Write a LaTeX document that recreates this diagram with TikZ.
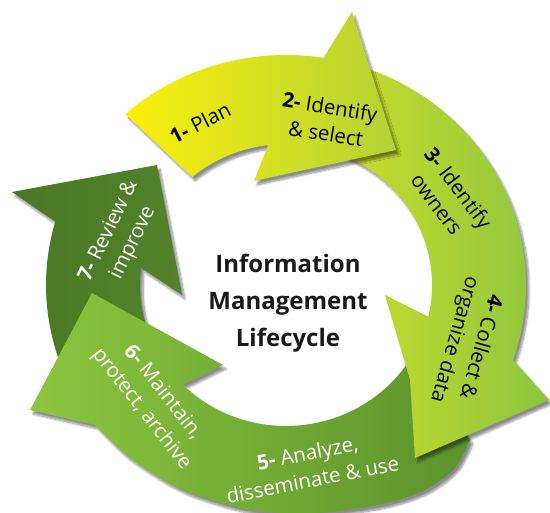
\documentclass[tikz,border=0pt]{standalone}
\usepackage{fontspec}
\setmainfont{Open Sans}
\usetikzlibrary{shadows.blur}
\definecolor{stepYellow}{HTML}{FBEF0C}
\definecolor{stepLime}{HTML}{B4D235}
\definecolor{stepPear}{HTML}{D3DE2A}
\definecolor{stepGreen}{HTML}{8CC63F}
\definecolor{stepGrass}{HTML}{5B922C}
\definecolor{stepDarkA}{HTML}{4A7825}
\definecolor{stepDarkB}{HTML}{52822A}

\begin{document}
\begin{tikzpicture}[x=1pt,y=1pt,
	band/.style={blur shadow={shadow xshift=3pt,shadow yshift=-4pt,shadow blur steps=8,shadow opacity=45}},
	tlabel/.style={font=\fontsize{20.5}{27}\selectfont,align=center,text=black},
	wlabel/.style={tlabel,text=white},
	title/.style={font=\fontsize{24}{37}\selectfont\bfseries,align=center,text=black!90}]
\useasboundingbox (0,0) rectangle (550,513);
\begin{scope}[shift={(286,228)}]
	% 7 review and improve
	\shade[band,left color=stepDarkA,right color=stepDarkB]
		(-129,120) -- (-274,93) -- (164:240 and 230)
		arc[start angle=164,end angle=212,x radius=240,y radius=230]
		-- (212:146 and 141)
		arc[start angle=212,end angle=173,x radius=146,y radius=141]
		-- (-104,-10) -- cycle;
	% 5 and 6
	\shade[band,left color=stepGreen,right color=stepGrass]
		(-194,-8) -- (-63,-80) -- (225:146 and 141)
		arc[start angle=225,end angle=330,x radius=146,y radius=141]
		-- plot[smooth] coordinates {(184,-155) (169,-183) (139,-205) (97,-219) (31,-228)
			(-36,-225) (-103,-205) (-156,-173) (-191,-140)}
		-- (-256,-125) -- cycle;
	% 3 and 4
	\shade[band,left color=stepPear,right color=stepGreen]
		(78:240 and 230)
		arc[start angle=78,end angle=-19,x radius=240,y radius=230]
		-- (263,-115) -- (129,-173) -- (124,-95) -- (99,-10) -- (-13:146 and 141)
		arc[start angle=-13,end angle=78,x radius=146,y radius=141]
		-- cycle;
	% 1 and 2
	\shade[band,left color=stepYellow,right color=stepLime]
		(132:240 and 230)
		arc[start angle=132,end angle=81,x radius=240,y radius=230]
		-- (66,273) -- (110,135) -- (-32,104) -- (97:146 and 141)
		arc[start angle=97,end angle=130,x radius=146,y radius=141]
		-- cycle;

	\node[title] (centre) at (2,-18) {Information\\Management\\Lifecycle};
	\node[tlabel,rotate=27] (plan) at (-86,162) {\textbf{1-} Plan};
	\node[tlabel,rotate=-9] (select) at (42,165) {\textbf{2-} Identify\\\& select};
	\node[tlabel,rotate=-53] (owners) at (162,89) {\textbf{3-} Identify\\owners};
	\node[tlabel,rotate=-106] (collect) at (181,-58) {\textbf{4-} Collect \&\\organize data};
	\node[wlabel,rotate=11] (analyze) at (24,-181) {\textbf{5-} Analyze,\\disseminate \& use};
	\node[wlabel,rotate=-52] (maintain) at (-134,-116) {\textbf{6-} Maintain,\\protect, archive};
	\node[wlabel,rotate=64] (review) at (-165,48) {\textbf{7-} Review \&\\improve};
\end{scope}
\end{tikzpicture}
\end{document}
